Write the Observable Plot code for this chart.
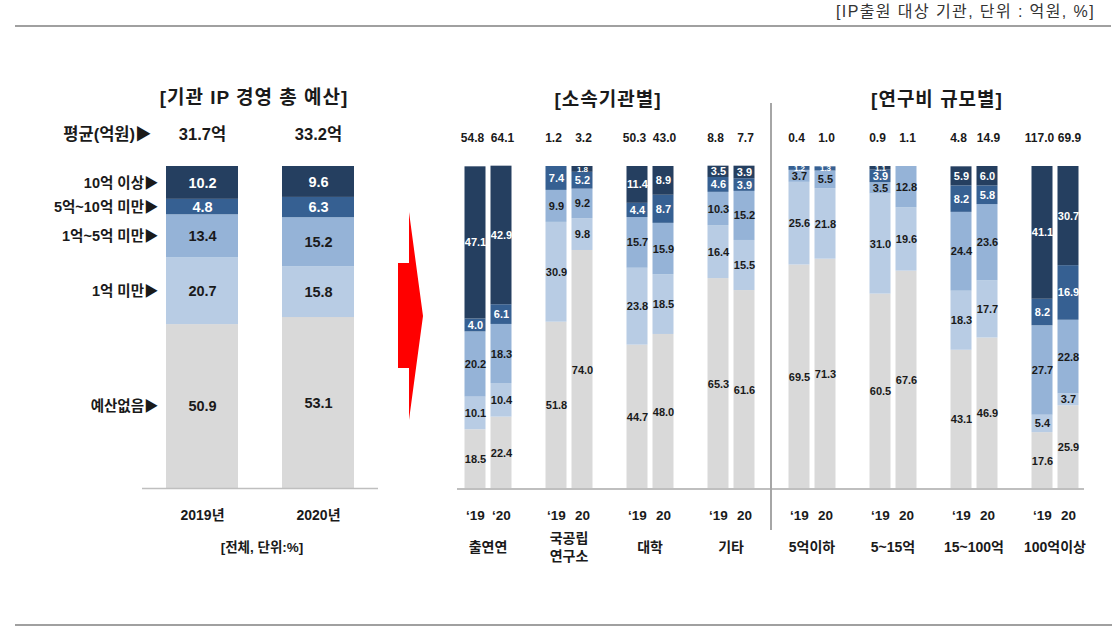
<!DOCTYPE html>
<html><head><meta charset="utf-8">
<script src="https://cdn.jsdelivr.net/npm/d3@7"></script>
<script src="https://cdn.jsdelivr.net/npm/@observablehq/plot@0.6"></script>
<style>
body{margin:0;background:#fff;}
#root{position:relative;width:1119px;height:635px;overflow:hidden;background:#fff;
  font-family:'Liberation Sans','Noto Sans CJK KR',Arial,sans-serif;color:#1a1a1a;}
.abs{position:absolute;}
.t{position:absolute;white-space:nowrap;font-weight:bold;transform:translate(-50%,-50%);line-height:1;}
</style></head><body>
<div id="root">
  <div class="abs" style="left:1095px;top:12px;transform:translate(-100%,-50%);font-size:16px;letter-spacing:1.4px;color:#333;white-space:nowrap;line-height:1;">[IP출원 대상 기관, 단위 : 억원, %]</div>
  <div class="abs" style="left:15px;top:25px;width:1096px;height:2px;background:#a0a0a0;"></div>
  <div class="abs" style="left:15px;top:624px;width:1097px;height:2px;background:#a0a0a0;"></div>
  <div class="t" style="left:254px;top:97px;font-size:19px;letter-spacing:1px;">[기관 IP 경영 총 예산]</div>
  <div class="t" style="left:608px;top:99px;font-size:19px;letter-spacing:1px;">[소속기관별]</div>
  <div class="t" style="left:937px;top:99px;font-size:19px;letter-spacing:1px;">[연구비 규모별]</div>
  <div class="t" style="left:262px;top:548px;font-size:13.5px;">[전체, 단위:%]</div>
  <div id="left" class="abs" style="left:0;top:0;"></div>
  <div id="right" class="abs" style="left:400px;top:0;"></div>
  <div class="abs" style="left:457px;top:488px;width:627px;height:2px;background:#bfbfbf;"></div>
  <div class="abs" style="left:770px;top:103px;width:2px;height:427px;background:#a6a6a6;"></div>
  <svg class="abs" style="left:0;top:0;" width="1119" height="635">
    <polygon points="398,263 409,263 409,212 423,316 409,420 409,368 398,368" fill="#ff0000"/>
  </svg>
</div>
<script>
const categories = ["예산없음", "1억 미만", "1억~5억 미만", "5억~10억 미만", "10억 이상"];
const colors = ["#d9d9d9", "#b8cce4", "#95b3d7", "#366092", "#253f60"];

const totalYears = ["2019년", "2020년"];
const totalAvg = ["31.7억", "33.2억"];
const total2019 = [50.9, 20.7, 13.4, 4.8, 10.2];
const total2020 = [53.1, 15.8, 15.2, 6.3, 9.6];

const groups = ["출연연", "국공립\n연구소", "대학", "기타", "5억이하", "5~15억", "15~100억", "100억이상"];
const yearKeys = ["y19", "y20"];
const yearLabels = [["‘19","‘20"],["‘19","20"],["‘19","20"],["‘19","20"],["‘19","20"],["‘19","20"],["‘19","20"],["‘19","20"]];
const groupTotals19 = [54.8, 1.2, 50.3, 8.8, 0.4, 0.9, 4.8, 117.0];
const groupTotals20 = [64.1, 3.2, 43.0, 7.7, 1.0, 1.1, 14.9, 69.9];
const groupValues19 = [
  [18.5, 10.1, 20.2, 4.0, 47.1],
  [51.8, 30.9, 9.9, 7.4, 0],
  [44.7, 23.8, 15.7, 4.4, 11.4],
  [65.3, 16.4, 10.3, 4.6, 3.5],
  [69.5, 25.6, 3.7, 1.2, 0],
  [60.5, 31.0, 3.5, 3.9, 1.1],
  [43.1, 18.3, 24.4, 8.2, 5.9],
  [17.6, 5.4, 27.7, 8.2, 41.1]
];
const groupValues20 = [
  [22.4, 10.4, 18.3, 6.1, 42.9],
  [74.0, 9.8, 9.2, 5.2, 1.8],
  [48.0, 18.5, 15.9, 8.7, 8.9],
  [61.6, 15.5, 15.2, 3.9, 3.9],
  [71.3, 21.8, 5.5, 1.3, 0],
  [67.6, 19.6, 12.8, 0, 0],
  [46.9, 17.7, 23.6, 5.8, 6.0],
  [25.9, 3.7, 22.8, 16.9, 30.7]
];

const FONT = "'Liberation Sans','Noto Sans CJK KR',Arial,sans-serif";
const DARK = "#1a1a1a";
const lab = (light) => d => (d.value > 0 && (d.ci < 3) === light) ? d.value.toFixed(1) : "";

// ---------- Left panel ----------
const rowsL = totalYears.flatMap((y, yi) => categories.map((c, ci) => ({
  year: y, cat: c, ci, value: (yi ? total2020 : total2019)[ci]
})));
const stackOpts = {x: "year", y: "value", z: "cat"};
const leftPlot = Plot.plot({
  width: 380, height: 530,
  marginLeft: 142, marginRight: 2, marginTop: 166, marginBottom: 42,
  x: {domain: totalYears, paddingInner: 0.376, paddingOuter: 0.197, axis: null},
  y: {domain: [0, 100], axis: null},
  color: {domain: categories, range: colors},
  style: {fontFamily: FONT, fontWeight: "bold", color: DARK, background: "transparent"},
  marks: [
    Plot.barY(rowsL, {...stackOpts, fill: "cat"}),
    Plot.ruleY([0], {stroke: "#bfbfbf", strokeWidth: 1.5}),
    Plot.text(rowsL, Plot.stackY({...stackOpts, text: lab(true), fill: DARK, fontSize: 14.5})),
    Plot.text(rowsL, Plot.stackY({...stackOpts, text: lab(false), fill: "white", fontSize: 14.5})),
    Plot.text(rowsL.filter(d => d.year === totalYears[0]), Plot.stackY({...stackOpts, text: d => d.cat + "▶", textAnchor: "end", dx: -44, fill: DARK, fontSize: 14.5})),
    Plot.text(totalYears, {x: d => d, text: (d, i) => totalAvg[i], frameAnchor: "top", lineAnchor: "middle", dy: -32, fontSize: 16.5, fill: DARK}),
    Plot.text(["평균(억원)▶"], {x: () => totalYears[0], text: d => d, frameAnchor: "top", lineAnchor: "middle", dy: -32, dx: -51, textAnchor: "end", fontSize: 16.5, fill: DARK}),
    Plot.text(totalYears, {x: d => d, text: d => d, frameAnchor: "bottom", lineAnchor: "middle", dy: 27, fontSize: 14, fill: DARK})
  ]
});
document.getElementById("left").appendChild(leftPlot);

// ---------- Right panel ----------
const rowsR = groups.flatMap((g, gi) => yearKeys.flatMap((yk, yi) => categories.map((c, ci) => ({
  group: g, year: yk, cat: c, ci, value: (yi ? groupValues20 : groupValues19)[gi][ci]
}))));
const totalsR = groups.flatMap((g, gi) => yearKeys.map((yk, yi) => ({
  group: g, year: yk, total: (yi ? groupTotals20 : groupTotals19)[gi], label: yearLabels[gi][yi]
})));
const sR = {fx: "group", x: "year", y: "value", z: "cat"};
const valSize = d => d.value < 2 ? 8 : 11;
const totText = {fx: "group", x: "year", text: d => d.total.toFixed(1), frameAnchor: "top", lineAnchor: "middle", dy: -28, fontSize: 12, fill: DARK};
const rightPlot = Plot.plot({
  width: 700, height: 570,
  marginLeft: 58, marginRight: 16, marginTop: 166, marginBottom: 81,
  fx: {domain: groups, paddingInner: 0.34, paddingOuter: 0, axis: null},
  x: {domain: yearKeys, padding: 0, axis: null},
  y: {domain: [0, 100], axis: null},
  color: {domain: categories, range: colors},
  style: {fontFamily: FONT, fontWeight: "bold", color: DARK, background: "transparent"},
  marks: [
    Plot.barY(rowsR, {...sR, fill: "cat", insetLeft: 2.5, insetRight: 2.5}),
    Plot.text(rowsR, Plot.stackY({...sR, text: lab(true), fill: DARK, fontSize: valSize})),
    Plot.text(rowsR, Plot.stackY({...sR, text: lab(false), fill: "white", fontSize: valSize})),
    Plot.text(totalsR.filter(d => d.year === "y19"), {...totText, dx: -3}),
    Plot.text(totalsR.filter(d => d.year === "y20"), {...totText, dx: 1}),
    Plot.text(totalsR, {fx: "group", x: "year", text: "label", frameAnchor: "bottom", lineAnchor: "middle", dy: 26, fontSize: 13.5, fill: DARK}),
    Plot.text(groups, {fx: d => d, text: d => d, frameAnchor: "bottom", lineAnchor: "middle", dy: 57, fontSize: 14, lineHeight: 1.3, fill: DARK})
  ]
});
document.getElementById("right").appendChild(rightPlot);
</script>
</body></html>
